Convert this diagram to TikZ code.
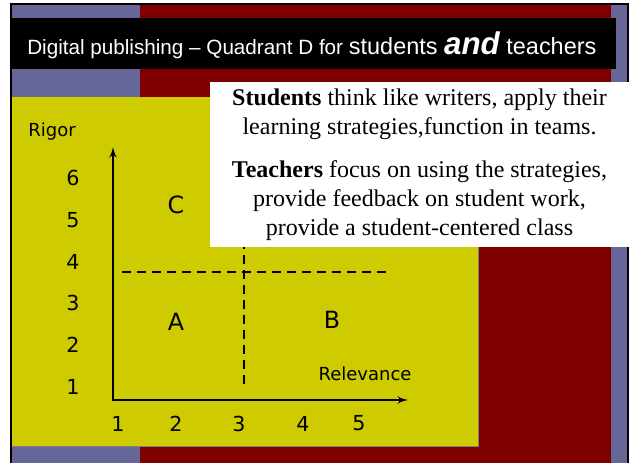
\documentclass[tikz,border=0pt]{standalone}
\usepackage{fontspec}
\setmainfont{Liberation Serif}
\newfontfamily\titlefont{Liberation Sans}
\newfontfamily\axisfont{DejaVu Sans}
\usepackage{xcolor}
\definecolor{Color1}{RGB}{102,102,153}
\definecolor{Color2}{RGB}{128,0,0}
\definecolor{Color3}{RGB}{206,204,0}
\usetikzlibrary{shapes,arrows,positioning}
\tikzstyle{infobox} = [rectangle, fill=white, inner sep=0pt, align=center,
    minimum width=314.25pt, minimum height=123.75pt,
    font=\fontsize{18}{21.75}\selectfont]
\tikzstyle{axis} = [draw, line width=1.7pt, line join=miter, latex'-latex']
\tikzstyle{split} = [draw, line width=1.8pt, dash pattern=on 6.75pt off 4.5pt]
\tikzstyle{tick} = [inner sep=0pt, font=\axisfont\fontsize{15.5}{18}\selectfont]
\tikzstyle{quad} = [inner sep=0pt, font=\axisfont\fontsize{17.8}{20}\selectfont]
\tikzstyle{axisname} = [inner sep=0pt, anchor=base, font=\axisfont\fontsize{13.5}{16}\selectfont]

\begin{document}
\begin{tikzpicture}[x=0.75pt, y=-0.75pt]
  \useasboundingbox (0,0) rectangle (630,463);
  \fill [white] (0,0) rectangle (630,463);
  % slide background
  \fill [Color1] (12,5) rectangle (140,463);
  \fill [Color2] (140,5) rectangle (611,463);
  \fill [Color1] (611,5) rectangle (627,463);
  \draw [line width=1.5pt] (11,463) -- (11,4) -- (628,4) -- (628,463);
  %
  \fill [black] (12,18) rectangle (616,69);
  \node [anchor=base west, inner sep=0pt, text=white,
    font=\titlefont\fontsize{15.5}{18}\selectfont] (title) at (27,55)
    {Digital publishing \textendash{} Quadrant D for
     {\fontsize{17.6}{20}\selectfont students
     {\bfseries\itshape\fontsize{23.5}{26}\selectfont and} teachers}};
  %
  \fill [Color3] (12,97) rectangle (478,446);
  \draw [gray, line width=0.6pt] (478,97) -- (478,446) -- (12,446);
  %
  \coordinate (O) at (113,400);
  \coordinate (ytip) at (113,147);
  \coordinate (xtip) at (408,400);
  \coordinate (hleft) at (122,272);
  \coordinate (hright) at (388,272);
  \coordinate (vtop) at (244,180);
  \coordinate (vbottom) at (244,390);
  \path [split] (hleft) -- (hright);
  \path [split] (vtop) -- (vbottom);
  \path [axis] (ytip) -- (O) -- (xtip);
  %
  \node [axisname] (Rigor) at (52,136.7) {Rigor};
  \node [axisname] (Relevance) at (365,380) {Relevance};
  %
  \node [tick] (r6) at (73,178) {6};
  \node [tick] (r5) at (73,220) {5};
  \node [tick] (r4) at (73,262) {4};
  \node [tick] (r3) at (73,303) {3};
  \node [tick] (r2) at (73,345) {2};
  \node [tick] (r1) at (73,387) {1};
  %
  \node [tick] (c1) at (118,423.5) {1};
  \node [tick] (c2) at (176,423.5) {2};
  \node [tick] (c3) at (239,423.5) {3};
  \node [tick] (c4) at (303,423.5) {4};
  \node [tick] (c5) at (359,423.5) {5};
  %
  \node [quad] (C) at (176,205) {C};
  \node [quad] (A) at (176,322) {A};
  \node [quad] (B) at (332,320) {B};
  %
  \node [infobox] (info) at (419.5,164.5)
    {\textbf{Students} think like writers, apply their\\
     learning strategies,function in teams.\\[10.5pt]
     \textbf{Teachers} focus on using the strategies,\\
     provide feedback on student work,\\
     provide a student-centered class};
\end{tikzpicture}
\end{document}
